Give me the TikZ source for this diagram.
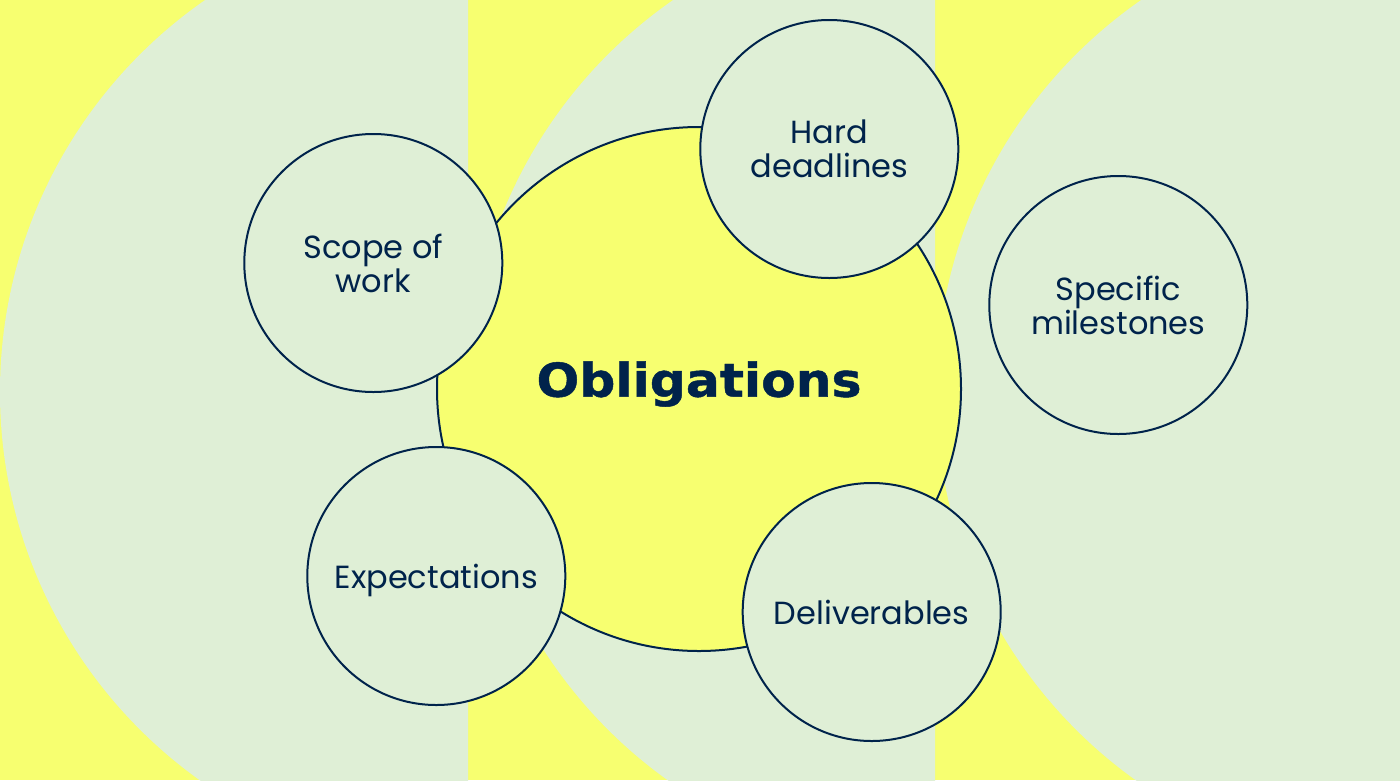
\documentclass[tikz,border=0pt]{standalone}
\usepackage{fontspec}
\setmainfont{Poppins}
\newfontfamily\titlefont[FakeStretch=1.08,FakeBold=1]{DejaVu Sans Bold}
\definecolor{bgyellow}{HTML}{F7FF70}
\definecolor{bggreen}{HTML}{DFEFD6}
\definecolor{navy}{HTML}{00234B}
\tikzset{
  bigdisc/.style={circle, draw=navy, line width=2pt, fill=bgyellow, minimum size=524pt, inner sep=0pt},
  smalldisc/.style={circle, draw=navy, line width=2pt, fill=bggreen, minimum size=258pt, inner sep=0pt,
    align=center, text=navy, font=\fontsize{32}{34}\selectfont},
  titletext/.style={text=navy, inner sep=0pt, font=\titlefont\fontsize{46.6}{50}\selectfont},
}
\begin{document}
\begin{tikzpicture}[x=1pt,y=-1pt]
\useasboundingbox (0,0) rectangle (1400,780);
\fill[bgyellow] (0,0) rectangle (1400,780);
\begin{scope}
  \clip (0,0) rectangle (468,780);
  \fill[bggreen] (477,392) circle[radius=477pt];
\end{scope}
\begin{scope}
  \clip (468,0) rectangle (935,780);
  \fill[bggreen] (945,392) circle[radius=477pt];
\end{scope}
\begin{scope}
  \clip (935,0) rectangle (1400,780);
  \fill[bggreen] (1413,392) circle[radius=477pt];
\end{scope}

\node[bigdisc] (hub) at (699,389) {};
\node[titletext, anchor=base] (title) at (699,396.7) {Obligations};

\node[smalldisc] (scope) at (373.3,263) {Scope of\\work};
\node[smalldisc] (deadlines) at (829.3,149) {Hard\\deadlines};
\node[smalldisc] (milestones) at (1118.3,305) {Specific\\milestones};
\node[smalldisc] (expect) at (436.3,576) {\raisebox{0pt}[\height][0pt]{Expectations}};
\node[smalldisc] (deliver) at (871.7,612) {Deliverables};
\end{tikzpicture}
\end{document}
